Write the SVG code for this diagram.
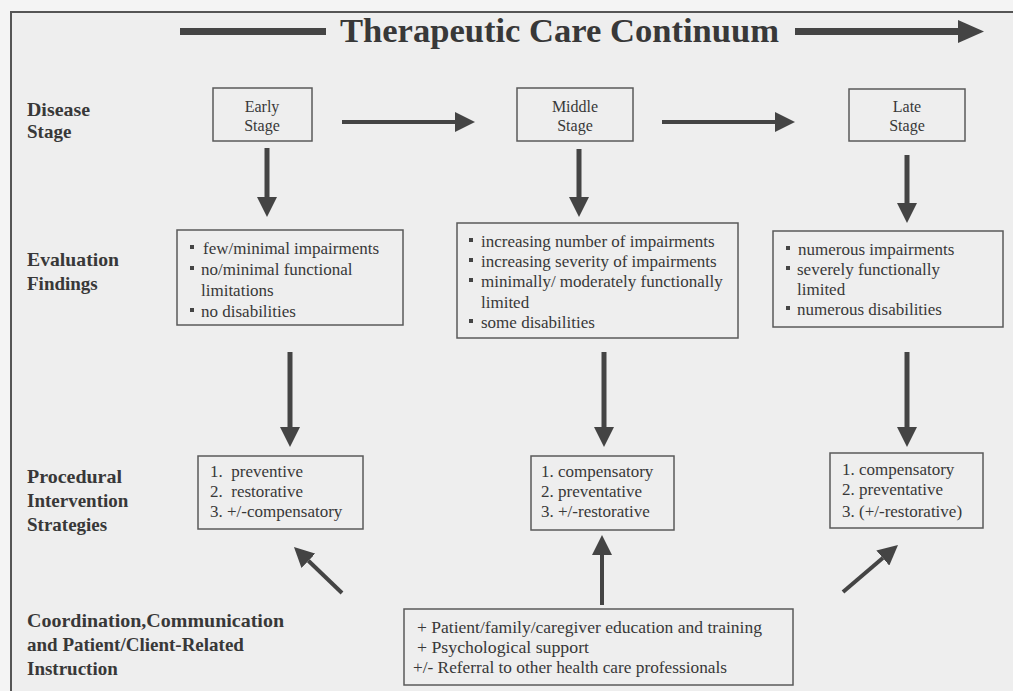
<svg xmlns="http://www.w3.org/2000/svg" width="1013" height="691" viewBox="0 0 1013 691">
<style>
text{font-family:"Liberation Serif","Times New Roman",serif;fill:#383838}
.lbl{font-size:19px;font-weight:bold}
.t{font-size:17px}
.st{font-size:16px;text-anchor:middle}
.box{fill:none;stroke:#5a5a5a;stroke-width:1.5}
.ar{stroke:#444;fill:none}
.bul{fill:#444}
</style>
<defs>
<marker id="head" markerUnits="userSpaceOnUse" markerWidth="20" markerHeight="20" refX="0" refY="10" orient="auto" viewBox="0 0 20 20">
<path d="M0,0 L20,10 L0,20 z" fill="#444"/>
</marker>
</defs>
<rect x="0" y="0" width="1013" height="691" fill="#f4f4f4"/>
<rect x="11" y="12" width="1002" height="679" fill="#eeeeee"/>
<path d="M11,691 V12 H1013" fill="none" stroke="#555" stroke-width="2"/>

<g id="title">
<rect x="180" y="28" width="146" height="7" fill="#444"/>
<text x="340" y="42" font-size="34" font-weight="bold" textLength="439" lengthAdjust="spacingAndGlyphs">Therapeutic Care Continuum</text>
<rect x="795" y="28" width="165" height="7" fill="#444"/>
<polygon points="958,20 984,31.5 958,43" fill="#444"/>
</g>

<g id="row-labels">
<text class="lbl" x="27" y="116" textLength="63" lengthAdjust="spacingAndGlyphs">Disease</text>
<text class="lbl" x="27" y="138">Stage</text>
<text class="lbl" x="27" y="266" textLength="92" lengthAdjust="spacingAndGlyphs">Evaluation</text>
<text class="lbl" x="27" y="290">Findings</text>
<text class="lbl" x="27" y="483" textLength="95" lengthAdjust="spacingAndGlyphs">Procedural</text>
<text class="lbl" x="27" y="507">Intervention</text>
<text class="lbl" x="27" y="531">Strategies</text>
<text class="lbl" x="27" y="627" textLength="257" lengthAdjust="spacingAndGlyphs">Coordination,Communication</text>
<text class="lbl" x="27" y="651">and Patient/Client-Related</text>
<text class="lbl" x="27" y="675">Instruction</text>
</g>

<g id="early-stage">
<rect class="box" x="213" y="88" width="99" height="53"/>
<text class="st" x="262" y="112">Early</text>
<text class="st" x="262" y="131">Stage</text>
</g>
<g id="middle-stage">
<rect class="box" x="517" y="88" width="116" height="53"/>
<text class="st" x="575" y="112">Middle</text>
<text class="st" x="575" y="131">Stage</text>
</g>
<g id="late-stage">
<rect class="box" x="849" y="89" width="116" height="52"/>
<text class="st" x="907" y="112">Late</text>
<text class="st" x="907" y="131">Stage</text>
</g>

<g id="early-findings">
<rect class="box" x="177" y="230" width="226" height="95"/>
<rect class="bul" x="190" y="245" width="4" height="4"/>
<text class="t" x="203" y="254">few/minimal impairments</text>
<rect class="bul" x="190" y="266" width="4" height="4"/>
<text class="t" x="201" y="275">no/minimal functional</text>
<text class="t" x="201" y="296">limitations</text>
<rect class="bul" x="190" y="308" width="4" height="4"/>
<text class="t" x="201" y="317">no disabilities</text>
</g>
<g id="middle-findings">
<rect class="box" x="457" y="223" width="281" height="115"/>
<rect class="bul" x="469" y="238" width="4" height="4"/>
<text class="t" x="481" y="247">increasing number of impairments</text>
<rect class="bul" x="469" y="258" width="4" height="4"/>
<text class="t" x="481" y="267">increasing severity of impairments</text>
<rect class="bul" x="469" y="278" width="4" height="4"/>
<text class="t" x="481" y="287">minimally/ moderately functionally</text>
<text class="t" x="481" y="308">limited</text>
<rect class="bul" x="469" y="319" width="4" height="4"/>
<text class="t" x="481" y="328">some disabilities</text>
</g>
<g id="late-findings">
<rect class="box" x="773" y="231" width="230" height="96"/>
<rect class="bul" x="786" y="246" width="4" height="4"/>
<text class="t" x="798" y="255">numerous impairments</text>
<rect class="bul" x="786" y="266" width="4" height="4"/>
<text class="t" x="797" y="275">severely functionally</text>
<text class="t" x="797" y="295">limited</text>
<rect class="bul" x="786" y="306" width="4" height="4"/>
<text class="t" x="797" y="315">numerous disabilities</text>
</g>

<g id="early-strategies">
<rect class="box" x="198" y="456" width="165" height="73"/>
<text class="t" x="210" y="477" xml:space="preserve">1.  preventive</text>
<text class="t" x="210" y="497" xml:space="preserve">2.  restorative</text>
<text class="t" x="210" y="517">3. +/-compensatory</text>
</g>
<g id="middle-strategies">
<rect class="box" x="531" y="456" width="143" height="74"/>
<text class="t" x="541" y="477">1. compensatory</text>
<text class="t" x="541" y="497">2. preventative</text>
<text class="t" x="541" y="517">3. +/-restorative</text>
</g>
<g id="late-strategies">
<rect class="box" x="830" y="453" width="153" height="75"/>
<text class="t" x="842" y="475">1. compensatory</text>
<text class="t" x="842" y="495">2. preventative</text>
<text class="t" x="842" y="517">3. (+/-restorative)</text>
</g>

<g id="coordination">
<rect class="box" x="404" y="609" width="389" height="76"/>
<text class="t" x="417" y="633" textLength="345" lengthAdjust="spacingAndGlyphs">+  Patient/family/caregiver education and training</text>
<text class="t" x="417" y="653" textLength="172" lengthAdjust="spacingAndGlyphs">+  Psychological support</text>
<text class="t" x="413" y="673" textLength="314" lengthAdjust="spacingAndGlyphs">+/- Referral to other health care professionals</text>
</g>

<g id="connectors">
<line class="ar" x1="342" y1="122" x2="455" y2="122" stroke-width="4" marker-end="url(#head)"/>
<line class="ar" x1="662" y1="122" x2="775" y2="122" stroke-width="4" marker-end="url(#head)"/>
<line class="ar" x1="267" y1="148" x2="267" y2="197" stroke-width="5" marker-end="url(#head)"/>
<line class="ar" x1="579" y1="149" x2="579" y2="197" stroke-width="5" marker-end="url(#head)"/>
<line class="ar" x1="907" y1="155" x2="907" y2="203" stroke-width="5" marker-end="url(#head)"/>
<line class="ar" x1="290" y1="352" x2="290" y2="427" stroke-width="5" marker-end="url(#head)"/>
<line class="ar" x1="604" y1="352" x2="604" y2="427" stroke-width="5" marker-end="url(#head)"/>
<line class="ar" x1="907" y1="352" x2="907" y2="427" stroke-width="5" marker-end="url(#head)"/>
<line class="ar" x1="342" y1="593" x2="308.4" y2="560.8" stroke-width="4" marker-end="url(#head)"/>
<line class="ar" x1="602" y1="605" x2="602" y2="555" stroke-width="4" marker-end="url(#head)"/>
<line class="ar" x1="843" y1="592" x2="882.8" y2="558" stroke-width="4" marker-end="url(#head)"/>
</g>
</svg>
